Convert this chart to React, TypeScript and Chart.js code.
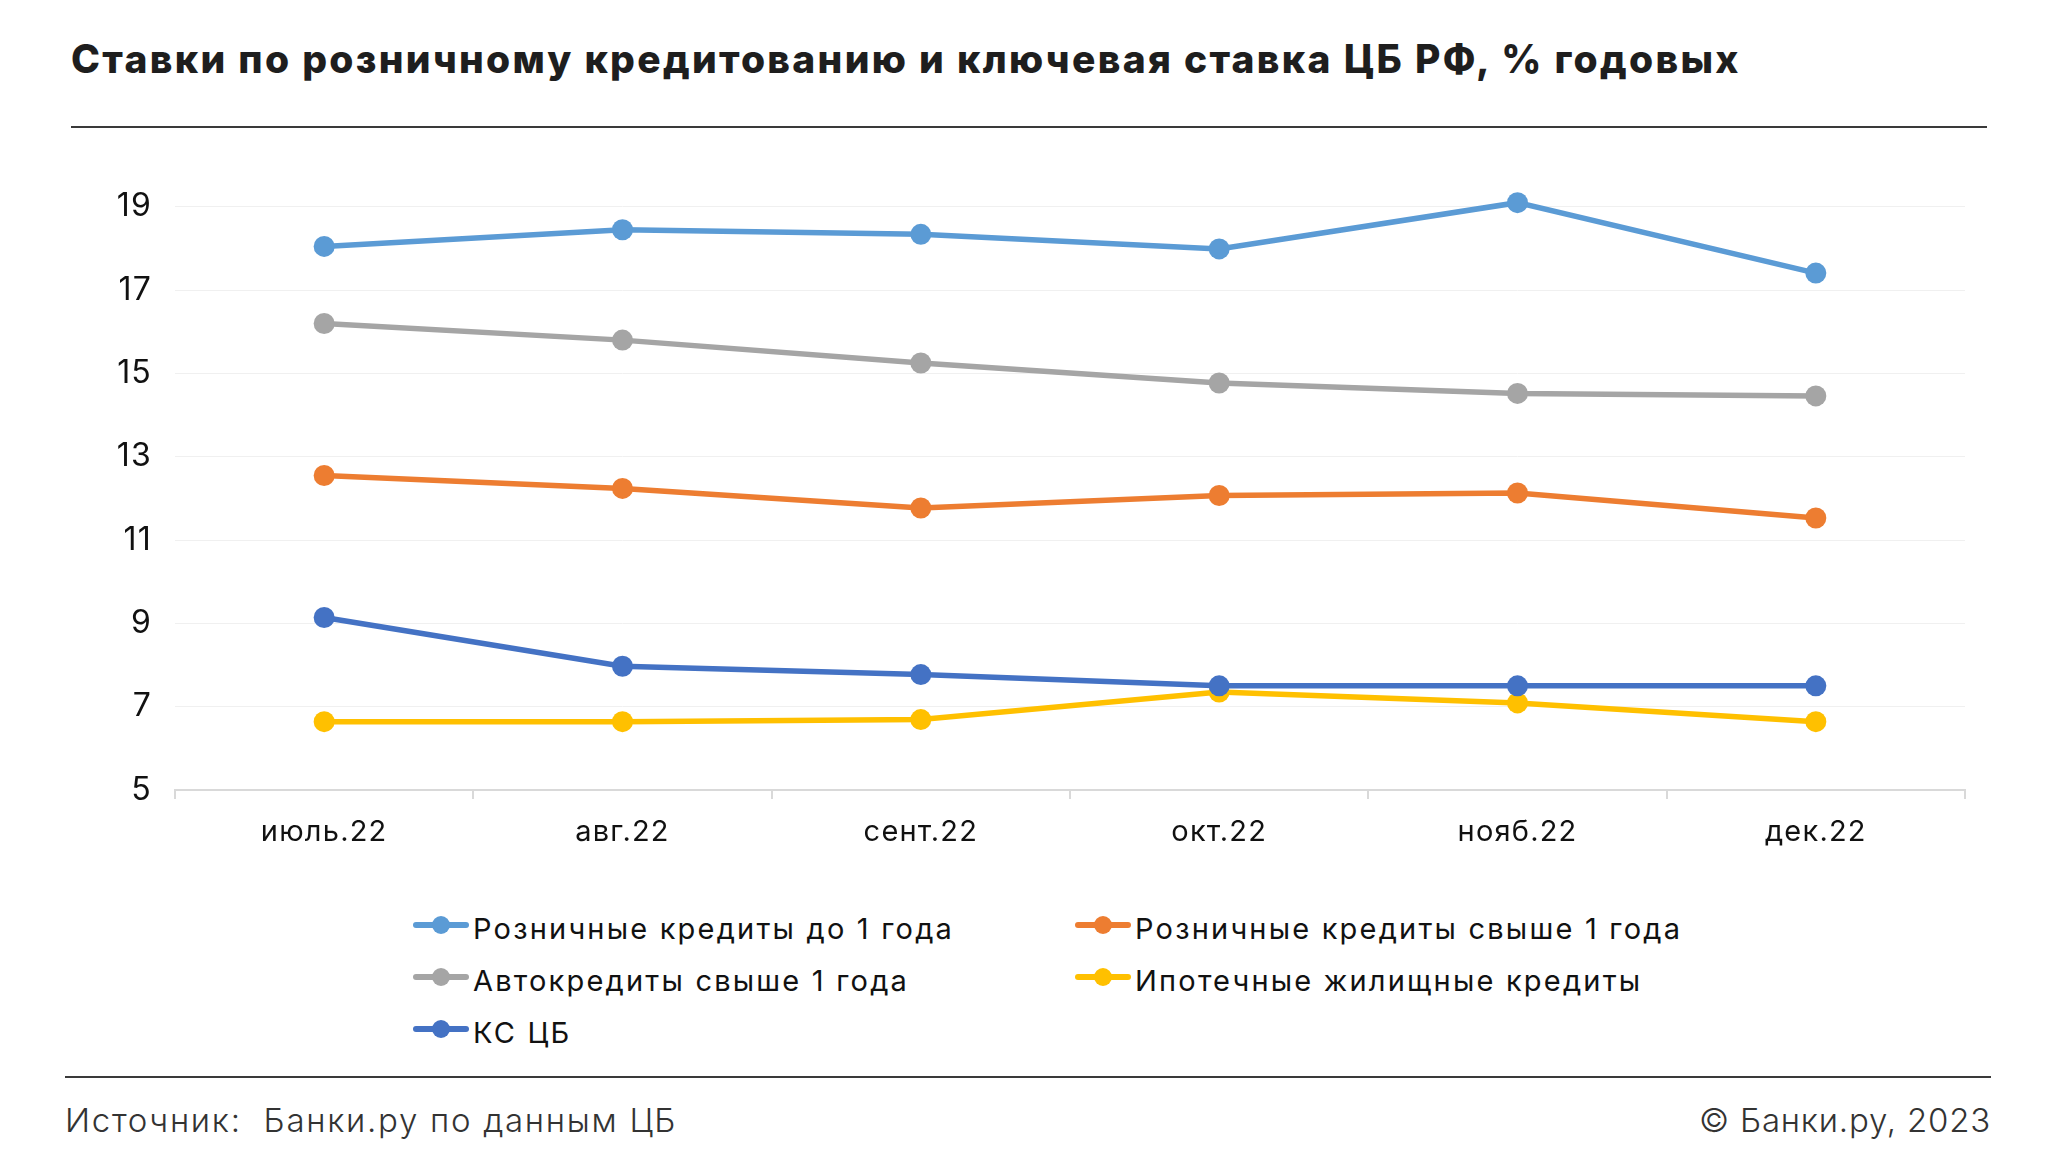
import React, { useEffect, useRef } from "react";
import { Chart, registerables } from "chart.js";

Chart.register(...registerables);

const TITLE = "Ставки по розничному кредитованию и ключевая ставка ЦБ РФ, % годовых";
const SOURCE = "Источник:  Банки.ру по данным ЦБ";
const COPYRIGHT = "© Банки.ру, 2023";

const categories = ["июль.22", "авг.22", "сент.22", "окт.22", "нояб.22", "дек.22"];

const retailUnder1 = [18.05, 18.45, 18.34, 17.99, 19.1, 17.41];
const retailOver1 = [12.55, 12.24, 11.77, 12.07, 12.13, 11.53];
const autoOver1 = [16.2, 15.8, 15.25, 14.77, 14.52, 14.46];
const mortgage = [6.64, 6.64, 6.69, 7.35, 7.09, 6.64];
const keyRate = [9.14, 7.97, 7.77, 7.5, 7.5, 7.5];

const seriesNames = [
  "Розничные кредиты до 1 года",
  "Розничные кредиты свыше 1 года",
  "Автокредиты свыше 1 года",
  "Ипотечные жилищные кредиты",
  "КС ЦБ",
];
const seriesColors = ["#5B9BD5", "#ED7D31", "#A5A5A5", "#FFC000", "#4472C4"];
const seriesValues = [retailUnder1, retailOver1, autoOver1, mortgage, keyRate];

const yTicks = [5, 7, 9, 11, 13, 15, 17, 19];

const FONT = "Inter, 'Noto Sans', sans-serif";

const letterSpacingPlugin = {
  id: "letterSpacing",
  beforeInit(chart: any) {
    (chart.ctx as any).letterSpacing = "1.2px";
  },
  beforeLayout(chart: any) {
    (chart.ctx as any).letterSpacing = "1.2px";
  },
  beforeDraw(chart: any) {
    (chart.ctx as any).letterSpacing = "1.2px";
  },
};

function LegendItem({ name, color }: { name: string; color: string }) {
  return (
    <div style={{ display: "flex", alignItems: "center", height: 40 }}>
      <div style={{ position: "relative", width: 56, height: 20, marginRight: 4, flex: "none" }}>
        <div
          style={{
            position: "absolute",
            left: 0,
            top: 7,
            width: 56,
            height: 6,
            borderRadius: 3,
            background: color,
          }}
        />
        <div
          style={{
            position: "absolute",
            left: 19,
            top: 1,
            width: 18,
            height: 18,
            borderRadius: 9,
            background: color,
          }}
        />
      </div>
      <span
        style={{
          fontSize: 29,
          letterSpacing: "2.2px",
          color: "#111",
          whiteSpace: "nowrap",
          position: "relative",
          top: 3,
        }}
      >
        {name}
      </span>
    </div>
  );
}

export default function App() {
  const canvasRef = useRef<HTMLCanvasElement | null>(null);

  useEffect(() => {
    document.body.style.margin = "0";
    const canvas = canvasRef.current;
    if (!canvas) return;
    const order = [5, 4, 3, 2, 1];
    const chart = new Chart(canvas, {
      type: "line",
      plugins: [letterSpacingPlugin],
      data: {
        labels: categories,
        datasets: seriesNames.map((name, i) => ({
          label: name,
          data: seriesValues[i],
          borderColor: seriesColors[i],
          backgroundColor: seriesColors[i],
          pointBackgroundColor: seriesColors[i],
          pointBorderWidth: 0,
          pointRadius: 10.5,
          borderWidth: 5.5,
          tension: 0,
          order: order[i],
          clip: false as any,
        })),
      },
      options: {
        animation: false,
        responsive: false,
        maintainAspectRatio: false,
        layout: { padding: { left: 0, right: 85, top: 46, bottom: 0 } },
        plugins: {
          legend: { display: false },
          title: { display: false },
          tooltip: { enabled: false },
        },
        scales: {
          x: {
            type: "category",
            offset: true,
            afterFit: (scale: any) => {
              scale.height = 90;
            },
            grid: {
              display: true,
              offset: true,
              drawOnChartArea: false,
              drawTicks: true,
              tickLength: 9,
              color: "#d9d9d9",
              lineWidth: 2,
            },
            border: { display: true, color: "#d9d9d9", width: 2 },
            ticks: {
              color: "#111",
              font: { family: FONT, size: 29 },
              padding: 16,
              maxRotation: 0,
            },
          },
          y: {
            min: 5,
            max: 19.5,
            afterFit: (scale: any) => {
              scale.width = 175;
            },
            afterBuildTicks: (scale: any) => {
              scale.ticks = yTicks.map((v) => ({ value: v }));
            },
            grid: {
              display: true,
              drawTicks: false,
              color: (ctx: any) => (ctx.tick && ctx.tick.value === 5 ? "rgba(0,0,0,0)" : "#f0f0f0"),
              lineWidth: 1,
            },
            border: { display: false },
            ticks: {
              color: "#111",
              font: { family: FONT, size: 32 },
              padding: 23,
            },
          },
        },
      },
    });
    return () => chart.destroy();
  }, []);

  return (
    <div
      style={{
        position: "relative",
        width: 2050,
        height: 1155,
        background: "#fff",
        fontFamily: FONT,
        overflow: "hidden",
      }}
    >
      <div
        style={{
          position: "absolute",
          left: 71,
          top: 39,
          fontSize: 39,
          lineHeight: "39px",
          fontWeight: 800,
          letterSpacing: "2.3px",
          color: "#1e1e1e",
          whiteSpace: "nowrap",
        }}
      >
        {TITLE}
      </div>
      <div style={{ position: "absolute", left: 71, top: 126, width: 1916, height: 2, background: "#3a3a3a" }} />

      <canvas
        ref={canvasRef}
        width={2050}
        height={740}
        style={{ position: "absolute", left: 0, top: 140, width: 2050, height: 740 }}
      />

      <div style={{ position: "absolute", left: 413, top: 905 }}>
        <LegendItem name={seriesNames[0]} color={seriesColors[0]} />
      </div>
      <div style={{ position: "absolute", left: 1075, top: 905 }}>
        <LegendItem name={seriesNames[1]} color={seriesColors[1]} />
      </div>
      <div style={{ position: "absolute", left: 413, top: 957 }}>
        <LegendItem name={seriesNames[2]} color={seriesColors[2]} />
      </div>
      <div style={{ position: "absolute", left: 1075, top: 957 }}>
        <LegendItem name={seriesNames[3]} color={seriesColors[3]} />
      </div>
      <div style={{ position: "absolute", left: 413, top: 1009 }}>
        <LegendItem name={seriesNames[4]} color={seriesColors[4]} />
      </div>

      <div style={{ position: "absolute", left: 65, top: 1076, width: 1926, height: 2, background: "#3a3a3a" }} />
      <div
        style={{
          position: "absolute",
          left: 65,
          top: 1104,
          fontSize: 33,
          lineHeight: "33px",
          fontWeight: 300,
          letterSpacing: "1.7px",
          color: "#333",
          whiteSpace: "pre",
        }}
      >
        {SOURCE}
      </div>
      <div
        style={{
          position: "absolute",
          right: 2050 - 1991,
          top: 1104,
          fontSize: 33,
          lineHeight: "33px",
          fontWeight: 300,
          letterSpacing: "0.8px",
          color: "#333",
          whiteSpace: "pre",
        }}
      >
        {COPYRIGHT}
      </div>
    </div>
  );
}
